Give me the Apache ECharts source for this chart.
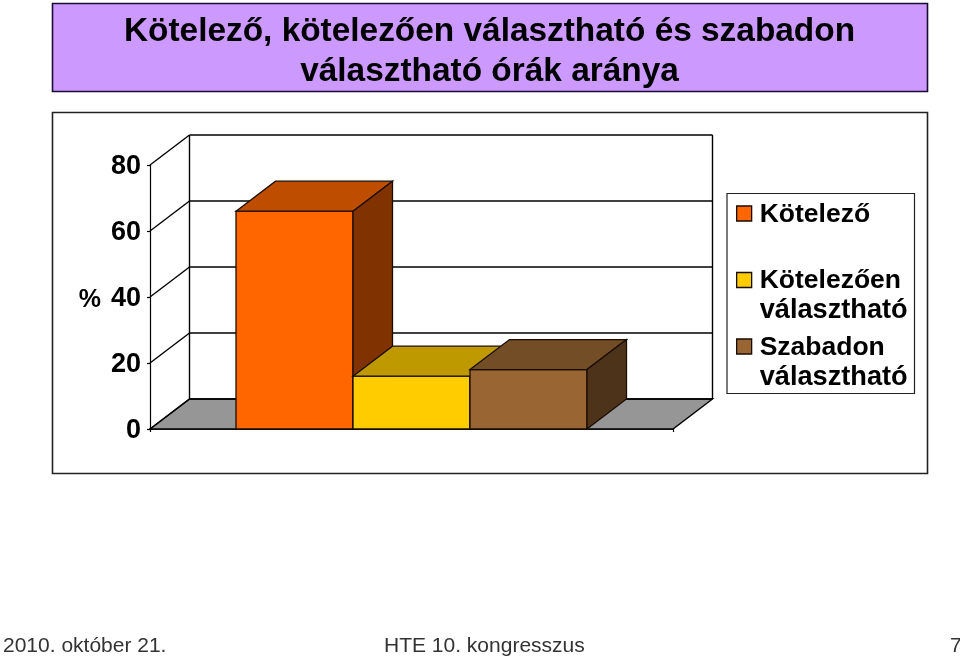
<!DOCTYPE html>
<html><head><meta charset="utf-8">
<style>html,body{margin:0;padding:0;background:#fff}#c{width:960px;height:662px}</style>
<script src="https://cdn.jsdelivr.net/npm/echarts@6/dist/echarts.min.js"></script>
</head><body><div id="c"></div>
<script>
const categories = [''];
const seriesNames = ['Kötelező', 'Kötelezően\nválasztható', 'Szabadon\nválasztható'];
const seriesValues = [66, 16, 18];
const wallTicks = [0, 20, 40, 60, 80];
const titleText = 'Kötelező, kötelezően választható és szabadon\nválasztható órák aránya';
const footerLeft = '2010. október 21.';
const footerMid = 'HTE 10. kongresszus';
const footerRight = '7';

const frontColors = ['#FF6600', '#FFCC00', '#996633'];
const topColors = ['#BF4D00', '#BF9900', '#734D26'];
const sideColors = ['#803300', '#806600', '#4D331A'];
const DX = 39.5, DY = -30, BAR_FRACTION = 117 / 523;
const FONT = '"Liberation Sans", Arial, sans-serif';
const line = {stroke: '#000', lineWidth: 1.4};

function poly(points, fill) {
  return {type: 'polygon', shape: {points}, style: {fill, stroke: '#1a0d00', lineWidth: 1.3}};
}
function renderBar(i) {
  return function (params, api) {
    const c = api.coord([api.value(0), api.value(1)]);
    const base = api.coord([api.value(0), 0]);
    const bw = api.size([1, 0])[0] * BAR_FRACTION;
    const x0 = c[0] + (i - 1.5) * bw, x1 = x0 + bw, yt = c[1], yb = base[1];
    return {type: 'group', children: [
      poly([[x0, yt], [x1, yt], [x1, yb], [x0, yb]], frontColors[i]),
      poly([[x0, yt], [x0 + DX, yt + DY], [x1 + DX, yt + DY], [x1, yt]], topColors[i]),
      poly([[x1, yt], [x1 + DX, yt + DY], [x1 + DX, yb + DY], [x1, yb]], sideColors[i])
    ]};
  };
}
function renderWall(params, api) {
  const sys = params.coordSys;
  const y = api.coord([0, api.value(0)])[1];
  const l = sys.x, r = sys.x + sys.width;
  const children = [
    {type: 'line', shape: {x1: l, y1: y, x2: l + DX, y2: y + DY}, style: line},
    {type: 'line', shape: {x1: l + DX, y1: y + DY, x2: r + DX, y2: y + DY}, style: line}
  ];
  if (api.value(0) === 0) {
    const top = api.coord([0, wallTicks[wallTicks.length - 1]])[1] + DY;
    children.unshift({type: 'polygon', shape: {points: [[l, y], [l + DX, y + DY], [r + DX, y + DY], [r, y]]},
      style: {fill: '#969696', stroke: '#000', lineWidth: 1.4}});
    children.push({type: 'line', shape: {x1: l + DX, y1: y + DY, x2: l + DX, y2: top}, style: line});
    children.push({type: 'line', shape: {x1: r + DX, y1: y + DY, x2: r + DX, y2: top}, style: line});
  }
  return {type: 'group', children};
}

const legendTops = [170, 236.5, 303];
const legends = seriesNames.map((n, i) => ({
  left: 736, top: legendTops[i], padding: 0, orient: 'vertical',
  selectedMode: false, icon: 'rect', itemWidth: 15, itemHeight: 15,
  data: [{name: n, itemStyle: {color: frontColors[i], borderColor: '#1a0d00', borderWidth: 1.3}}],
  formatter: s => {
    const parts = s.split('\n');
    return `{s| }\n{a|${parts[0]}}\n{b|${parts[1] || ' '}}`;
  },
  textStyle: {fontFamily: FONT, fontSize: 26.5, fontWeight: 'bold', color: '#000',
    rich: {
      s: {fontFamily: FONT, fontSize: 26.5, lineHeight: 32},
      a: {fontFamily: FONT, fontSize: 26.5, fontWeight: 'bold', color: '#000', lineHeight: 30, padding: [0, 0, 0, 3]},
      b: {fontFamily: FONT, fontSize: 27.2, fontWeight: 'bold', color: '#000', lineHeight: 30, padding: [0, 0, 0, 3]}
    }}
}));

const chart = echarts.init(document.getElementById('c'), null, {renderer: 'canvas'});
chart.setOption({
  animation: false,
  backgroundColor: '#fff',
  title: [
    {text: titleText, left: 489.5, top: 12, textAlign: 'center', padding: 0,
      textStyle: {fontFamily: FONT, fontSize: 33.4, fontWeight: 'bold', color: '#000', lineHeight: 40}},
    {text: footerLeft, left: 3, top: 636, padding: 0,
      textStyle: {fontFamily: FONT, fontSize: 21, fontWeight: 'normal', color: '#333'}},
    {text: footerMid, left: 384, top: 636, padding: 0,
      textStyle: {fontFamily: FONT, fontSize: 21, fontWeight: 'normal', color: '#333'}},
    {text: footerRight, left: 950, top: 636, padding: 0,
      textStyle: {fontFamily: FONT, fontSize: 21, fontWeight: 'normal', color: '#333'}}
  ],
  graphic: [
    {type: 'rect', z: -10, shape: {x: 52.5, y: 3.5, width: 875, height: 88},
      style: {fill: '#CC99FF', stroke: '#1a0d33', lineWidth: 1.6}},
    {type: 'rect', z: -10, shape: {x: 52.5, y: 112.5, width: 875, height: 361},
      style: {fill: '#fff', stroke: '#222', lineWidth: 1.6}},
    {type: 'rect', z: -10, shape: {x: 727, y: 193.5, width: 187.5, height: 200},
      style: {fill: '#fff', stroke: '#222', lineWidth: 1.2}}
  ],
  legend: legends,
  grid: {left: 150, top: 165, width: 523, height: 264, containLabel: false},
  xAxis: {type: 'category', data: categories,
    axisLine: {lineStyle: {color: '#000', width: 1.5}},
    axisTick: {show: true, length: 3, lineStyle: {color: '#000', width: 1.2}},
    axisLabel: {show: false}, splitLine: {show: false}},
  yAxis: {type: 'value', min: 0, max: 80, interval: 20,
    name: '{p|%}', nameLocation: 'middle', nameRotate: 0, nameGap: 49,
    nameTextStyle: {fontFamily: FONT, fontSize: 25, fontWeight: 'bold', color: '#000',
      rich: {p: {fontFamily: FONT, fontSize: 25, fontWeight: 'bold', color: '#000', padding: [6, 0, 0, 0]}}},
    axisLine: {show: true, lineStyle: {color: '#000', width: 1.2}},
    axisTick: {show: true, length: 3, lineStyle: {color: '#000', width: 1.2}},
    axisLabel: {fontFamily: FONT, fontSize: 27, fontWeight: 'bold', color: '#000', margin: 9,
      formatter: '{v|{value}}',
      rich: {v: {fontFamily: FONT, fontSize: 27, fontWeight: 'bold', color: '#000', padding: [4, 0, 0, 0]}}},
    splitLine: {show: false}},
  series: [
    {type: 'custom', name: 'wall', z: 1, silent: true, coordinateSystem: 'cartesian2d',
      data: wallTicks.map(v => [v]), encode: {y: 0}, renderItem: renderWall},
    ...seriesNames.map((n, i) => ({
      type: 'custom', name: n, z: 2 + i, coordinateSystem: 'cartesian2d',
      itemStyle: {color: frontColors[i]},
      data: [[0, seriesValues[i]]], encode: {x: 0, y: 1}, renderItem: renderBar(i)
    }))
  ]
});
</script></body></html>
